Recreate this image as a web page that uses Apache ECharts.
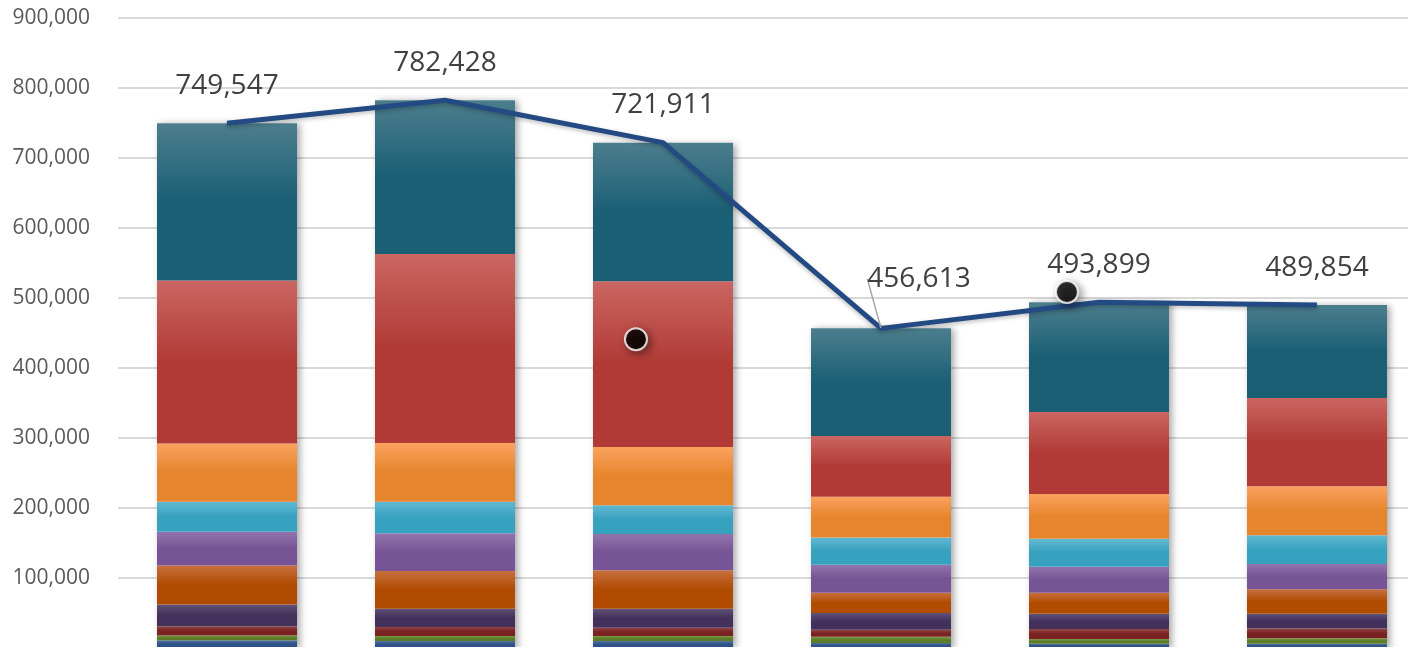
<!DOCTYPE html>
<html>
<head>
<meta charset="utf-8">
<script src="https://cdn.jsdelivr.net/npm/echarts@6/dist/echarts.min.js"></script>
<style>
  html, body { margin: 0; padding: 0; background: #fff; }
  #chart { width: 1408px; height: 647px; }
</style>
</head>
<body>
<div id="chart"></div>
<script>
const categories = ['1', '2', '3', '4', '5', '6'];
const totals = [749547, 782428, 721911, 456613, 493899, 489854];

// stacked segments, bottom to top
const blue = [11000, 10000, 10000, 7000, 6000, 6000];
const green = [7000, 7000, 7000, 9000, 7000, 8000];
const darkRed = [13000, 13000, 12000, 10000, 14000, 14000];
const darkPurple = [31000, 26000, 27000, 24000, 22000, 21000];
const brown = [56000, 54000, 55000, 29000, 30000, 35000];
const purple = [48000, 54000, 52000, 40000, 37000, 36000];
const cyan = [43000, 45000, 41000, 39000, 40000, 41000];
const orange = [83000, 84000, 83000, 58000, 64000, 70000];
const red = [233000, 270000, 237000, 87000, 117000, 126000];
const teal = [224547, 219428, 197911, 153613, 156899, 132854];

// the two stray black markers (x in category units, y in value)
const dots = [[2.376, 441000], [4.353, 508600]];

const yTicks = [0, 100000, 200000, 300000, 400000, 500000, 600000, 700000, 800000, 900000];

// which total label is pulled aside with a leader line
const movedLabel = 3;

const segments = [
    { name: 'blue', data: blue, top: '#52729e', bottom: '#2d5287' },
    { name: 'green', data: green, top: '#7d9c48', bottom: '#5d7c29' },
    { name: 'darkRed', data: darkRed, top: '#934747', bottom: '#7a2121' },
    { name: 'darkPurple', data: darkPurple, top: '#5f5178', bottom: '#43315b' },
    { name: 'brown', data: brown, top: '#c7703f', bottom: '#b04b00' },
    { name: 'purple', data: purple, top: '#9275ad', bottom: '#775496' },
    { name: 'cyan', data: cyan, top: '#62b9d0', bottom: '#37a1c0' },
    { name: 'orange', data: orange, top: '#faa25e', bottom: '#e7852e' },
    { name: 'red', data: red, top: '#cb6662', bottom: '#b13a36' },
    { name: 'teal', data: teal, top: '#4c7e8d', bottom: '#1b5f75' }
];

const fmt = (v) => v.toLocaleString('en-US');

const chart = echarts.init(document.getElementById('chart'));

const series = [{
    name: 'shadow',
    type: 'bar',
    data: totals,
    barWidth: 140,
    barGap: '-100%',
    z: 1,
    itemStyle: {
        color: '#ffffff',
        shadowColor: 'rgba(0,0,0,0.35)',
        shadowBlur: 7,
        shadowOffsetX: 3,
        shadowOffsetY: 1
    },
    silent: true
}];

segments.forEach((s) => {
    series.push({
        name: s.name,
        type: 'bar',
        stack: 'total',
        data: s.data,
        barWidth: 140,
        z: 2,
        itemStyle: {
            color: new echarts.graphic.LinearGradient(0, 0, 0, 1, [
                { offset: 0, color: s.top },
                { offset: 0.5, color: s.bottom },
                { offset: 1, color: s.bottom }
            ])
        }
    });
});

series.push({
    name: 'total',
    type: 'line',
    data: totals.map((v, i) => i === movedLabel
        ? { value: v, labelLine: { show: true } }
        : v),
    z: 5,
    symbol: 'circle',
    symbolSize: 1,
    showSymbol: true,
    itemStyle: { color: 'rgba(0,0,0,0)' },
    lineStyle: {
        color: '#244a83',
        width: 5,
        shadowColor: 'rgba(0,0,0,0.25)',
        shadowBlur: 4,
        shadowOffsetY: 2
    },
    label: {
        show: true,
        position: 'top',
        distance: 23,
        formatter: (p) => fmt(p.value),
        fontFamily: 'Open Sans',
        fontSize: 28,
        color: '#404040'
    },
    labelLine: {
        show: false,
        lineStyle: { color: '#a6a6a6', width: 1.5 }
    },
    labelLayout: (params) => {
        if (params.dataIndex === movedLabel) {
            return { dx: 38, dy: -12 };
        }
        return {};
    }
});

series.push({
    name: 'dots',
    type: 'scatter',
    xAxisIndex: 1,
    data: dots,
    z: 6,
    symbolSize: 22,
    itemStyle: {
        color: '#000000',
        borderColor: '#ffffff',
        borderWidth: 2,
        shadowColor: 'rgba(0,0,0,0.5)',
        shadowBlur: 8,
        shadowOffsetX: 3,
        shadowOffsetY: 3
    }
});

chart.setOption({
    animation: false,
    grid: {
        left: 118,
        right: -18,
        top: 18,
        bottom: -1,
        outerBoundsMode: 'none',
        containLabel: false
    },
    xAxis: [{
        type: 'category',
        data: categories,
        axisLine: { show: false },
        axisTick: { show: false },
        axisLabel: { show: false }
    }, {
        type: 'value',
        min: 0,
        max: 6,
        show: false
    }],
    yAxis: {
        type: 'value',
        min: yTicks[0],
        max: yTicks[yTicks.length - 1],
        interval: yTicks[1] - yTicks[0],
        axisLine: { show: false },
        axisTick: { show: false },
        axisLabel: {
            margin: 28,
            showMinLabel: false,
            fontFamily: 'Open Sans',
            fontSize: 21,
            color: '#595959',
            formatter: (v) => fmt(v)
        },
        splitLine: {
            lineStyle: { color: '#d9d9d9', width: 2 }
        }
    },
    series: series
});
</script>
</body>
</html>
